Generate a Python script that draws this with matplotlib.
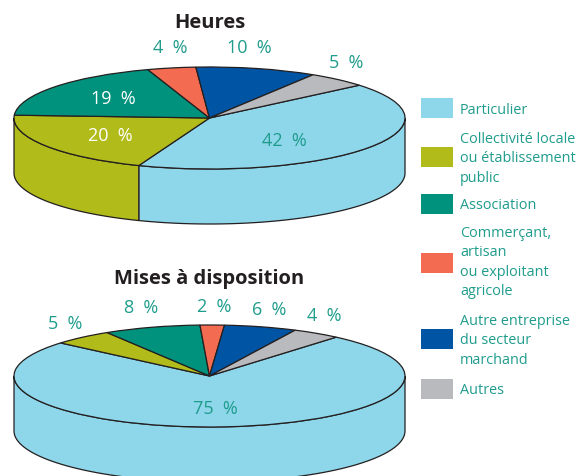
import numpy as np
import matplotlib
matplotlib.use('Agg')
import matplotlib.pyplot as plt
from matplotlib.patches import Rectangle

plt.rcParams['font.family'] = ['Open Sans', 'DejaVu Sans']

categories = ['Particulier', 'Collectivité locale\nou établissement\npublic', 'Association',
              'Commerçant,\nartisan\nou exploitant\nagricole', 'Autre entreprise\ndu secteur\nmarchand', 'Autres']
heures = [42, 20, 19, 4, 10, 5]
mises = [75, 5, 8, 2, 6, 4]
colors = ['#8ed6ea', '#b1bb1a', '#00927c', '#f36c52', '#0054a4', '#b9babd']

W, H = 577, 477
teal = '#1f9c8c'
edge = '#231f20'

fig = plt.figure(figsize=(W / 100, H / 100), dpi=100)

def draw_pie(values, cy, start):
    cx, a, b, depth = 209.5, 195.5, 51, 55
    ax = fig.add_axes([(cx - a) / W, 1 - (cy + b) / H, 2 * a / W, 2 * b / H])
    wedges, _ = ax.pie(values, startangle=start, counterclock=False, colors=colors,
                       wedgeprops={'edgecolor': edge, 'linewidth': 0.9, 'clip_on': False, 'zorder': 3})
    for w, c in zip(wedges, colors):
        lo = w.theta1 % 360
        hi = lo + (w.theta2 - w.theta1)
        for shift in (0, 360, -360):
            t1, t2 = max(lo + shift, 180), min(hi + shift, 360)
            if t2 > t1:
                t = np.radians(np.linspace(t1, t2, 80))
                xs = np.r_[np.cos(t), np.cos(t)[::-1]]
                ys = np.r_[np.sin(t), np.sin(t)[::-1] - depth / b]
                ax.fill(xs, ys, facecolor=c, edgecolor=edge, linewidth=0.9, clip_on=False, zorder=1)
    ax.set_aspect('auto')
    ax.set_xlim(-1, 1)
    ax.set_ylim(-1, 1)
    ax.axis('off')

draw_pie(heures, 119, 40)
draw_pie(mises, 377, 49.6)

top = fig.add_axes([0, 0, 1, 1])
top.set_xlim(0, W)
top.set_ylim(H, 0)
top.axis('off')
top.patch.set_alpha(0)

top.text(210, 23, 'Heures', fontsize=14.5, fontweight='bold', color=edge, ha='center', va='center')
top.text(209, 279, 'Mises à disposition', fontsize=14.5, fontweight='bold', color=edge, ha='center', va='center')

heures_pos = [(284, 141), (110, 136), (113, 99), (170, 48), (249, 48), (346, 63)]
heures_col = [teal, 'white', 'white', teal, teal, teal]
for v, p, c in zip(heures, heures_pos, heures_col):
    top.text(p[0], p[1], f'{v}  %', fontsize=13, color=c, ha='center', va='center')

mises_pos = [(215, 409), (65, 324), (141, 308), (214, 307), (269, 310), (324, 316)]
for v, p in zip(mises, mises_pos):
    top.text(p[0], p[1], f'{v}  %', fontsize=13, color=teal, ha='center', va='center')

# legend
box_y = [99, 148, 195, 254, 330, 380]
text_y = [110, 159, 206, 262.5, 341, 391]
for name, c, by, ty in zip(categories, colors, box_y, text_y):
    top.add_patch(Rectangle((421, by), 32, 20, facecolor=c, edgecolor='none'))
    top.text(460, ty, name, fontsize=10.4, color=teal, ha='left', va='center', linespacing=1.41)

fig.savefig('out.png', dpi=100)
